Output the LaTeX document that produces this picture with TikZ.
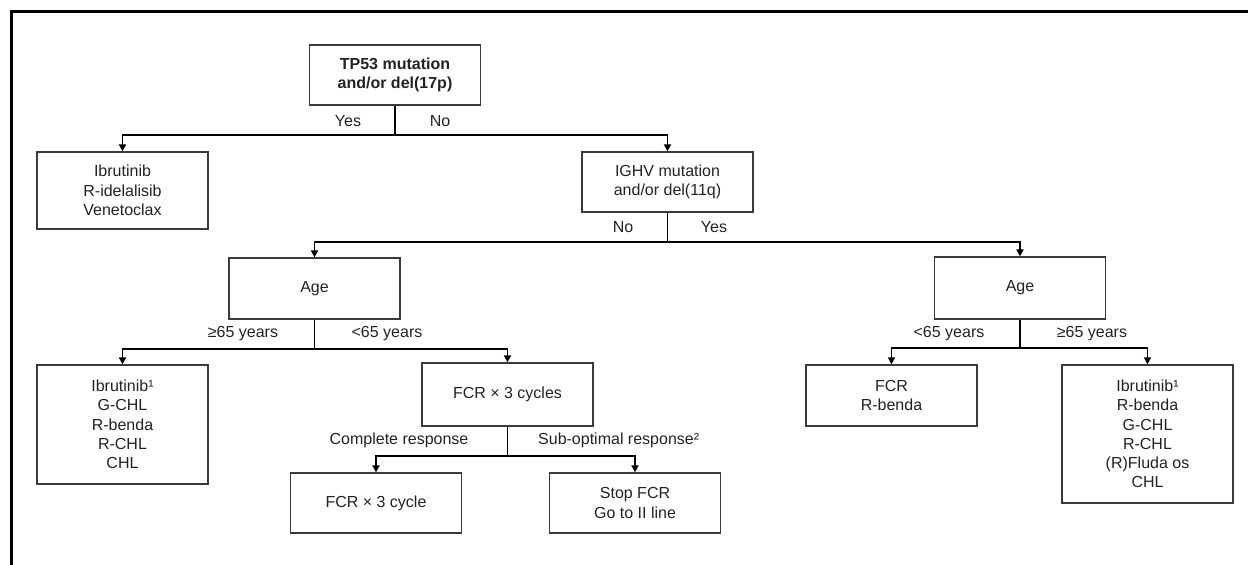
\documentclass[tikz,border=0pt]{standalone}
\usepackage{fontspec}
\setmainfont{Liberation Sans}
\usetikzlibrary{arrows.meta}
\definecolor{boxgray}{HTML}{3A3A3A}
\definecolor{txt}{HTML}{222222}
\begin{document}
\begin{tikzpicture}[x=1pt,y=-1pt,
  box/.style={draw=boxgray,line width=1.3pt,rectangle,align=center,inner sep=0pt,
    font=\fontsize{16}{19.3}\selectfont,text=txt,minimum width=171pt},
  lbl/.style={font=\fontsize{16}{19.3}\selectfont,text=txt,inner sep=0pt},
  conn/.style={draw=black,line width=1.8pt},
  arr/.style={conn,-{Triangle[length=7pt,width=7pt]}}]
\useasboundingbox (0,0) rectangle (1248,565);
% frame
\draw[line width=3pt] (11,568) -- (11,11) -- (1252,11);

% boxes
\node[box,minimum height=60pt,font=\bfseries\fontsize{16}{19.3}\selectfont] (tp53) at (395,75) {TP53 mutation\\and/or del(17p)};
\node[box,minimum height=77pt] (ibr1) at (122.5,190.5) {Ibrutinib\\R-idelalisib\\Venetoclax};
\node[box,minimum height=60pt] (ighv) at (667.5,182) {IGHV mutation\\and/or del(11q)};
\node[box,minimum height=61pt] (ageL) at (314.5,288.5) {Age};
\node[box,minimum height=62pt] (ageR) at (1020,288) {Age};
\node[box,minimum height=119pt] (ibr2) at (122.5,424.5) {Ibrutinib¹\\G-CHL\\R-benda\\R-CHL\\CHL};
\node[box,minimum height=63pt] (fcr3) at (507.5,394.5) {FCR × 3 cycles};
\node[box,minimum height=61pt] (fcrb) at (891.5,395.5) {FCR\\R-benda};
\node[box,minimum height=138pt] (ibr3) at (1147.5,434) {Ibrutinib¹\\R-benda\\G-CHL\\R-CHL\\(R)Fluda os\\CHL};
\node[box,minimum height=60pt] (fcrc) at (376,503) {FCR × 3 cycle};
\node[box,minimum height=60pt] (stop) at (635,503) {Stop FCR\\Go to II line};

% junctions
\coordinate (j1) at (395,135);
\coordinate (j2) at (667.5,242);
\coordinate (j3) at (314.5,349);
\coordinate (j4) at (1020,348);
\coordinate (j5) at (507.5,456);

% connectors
\draw[conn] (tp53.south) -- (j1);
\draw[arr] (j1) -| (ibr1.north);
\draw[arr] (j1) -| (ighv.north);
\draw[conn] (ighv.south) -- (j2);
\draw[arr] (j2) -| (ageL.north);
\draw[arr] (j2) -| (ageR.north);
\draw[conn] (ageL.south) -- (j3);
\draw[arr] (j3) -| (ibr2.north);
\draw[arr] (j3) -| (fcr3.north);
\draw[conn] (ageR.south) -- (j4);
\draw[arr] (j4) -| (fcrb.north);
\draw[arr] (j4) -| (ibr3.north);
\draw[conn] (fcr3.south) -- (j5);
\draw[arr] (j5) -| (fcrc.north);
\draw[arr] (j5) -| (stop.north);

% labels
\node[lbl] (l1) at (348,121) {Yes};
\node[lbl] (l2) at (440,121) {No};
\node[lbl] (l3) at (623,227) {No};
\node[lbl] (l4) at (714,227) {Yes};
\node[lbl] (l5) at (243,334) {≥65 years};
\node[lbl] (l6) at (387,334) {<65 years};
\node[lbl] (l7) at (949,334) {<65 years};
\node[lbl] (l8) at (1092,334) {≥65 years};
\node[lbl] (l9) at (399,440) {Complete response};
\node[lbl,anchor=west] (l10) at (538,440) {Sub-optimal response²};
\end{tikzpicture}
\end{document}
